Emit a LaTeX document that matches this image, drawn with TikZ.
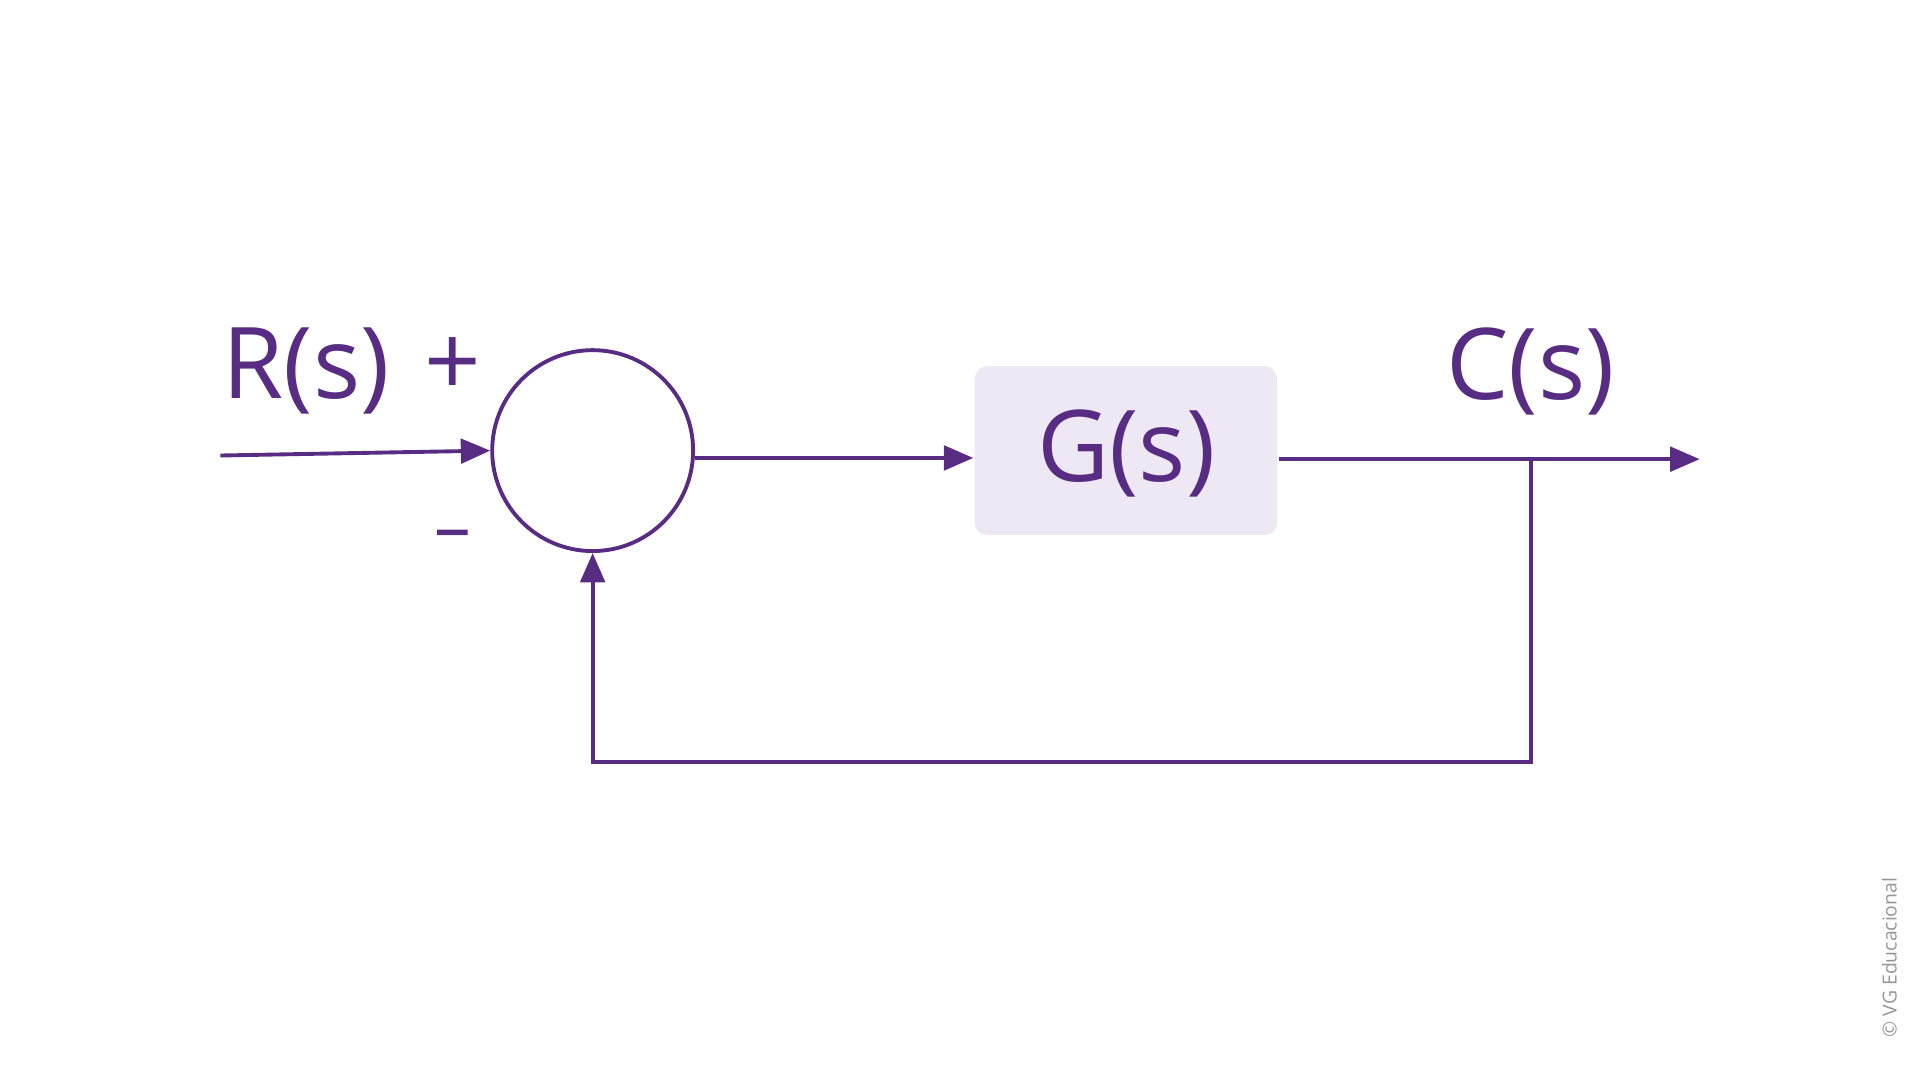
\documentclass[tikz,border=0pt]{standalone}
\usepackage{fontspec}
\setmainfont{Open Sans}
\usetikzlibrary{arrows.meta,positioning}
\definecolor{sig_purple}{RGB}{88,44,131}
\definecolor{box_lilac}{RGB}{237,232,243}
\definecolor{note_gray}{RGB}{150,150,150}

\begin{document}
\begin{tikzpicture}[x=0.01cm,y=-0.01cm,semithick,>={Triangle[length=2.4mm,width=2mm]}]
    \tikzstyle{sig}=[draw=sig_purple,line width=0.9pt]
    \tikzstyle{lbl}=[text=sig_purple,font=\fontsize{23}{28}\selectfont,inner sep=0pt]
    \tikzstyle{sum}=[sig,circle,minimum size=1.64cm,inner sep=0pt,fill=white]
    \tikzstyle{block}=[fill=box_lilac,rounded corners=3pt,minimum width=2.47cm,minimum height=1.38cm]

    \useasboundingbox (0,0) rectangle (1568,882);

    \node[sum]   (s) at (484,368) {};
    \node[block] (g) at (919.5,368) {};
    \node[lbl]   at (920,370) {G(s)};
    \coordinate (in)  at (180,372);
    \coordinate (out) at (1388,375);
    \coordinate (tap) at (1250,375);
    \coordinate (low) at (1250,622);

    \node[lbl] (r)  at (250,303) {R(s)};
    \node[lbl] (c)  at (1250,303) {C(s)};
    \node[lbl] (p)  at (370,300) {+};
    \node[lbl,font=\fontsize{17}{18}\selectfont] (m) at (370,442) {–};
    \node[text=note_gray,font=\fontsize{4.5}{5}\selectfont,rotate=90,inner sep=0pt] (cr) at (1543,782) {© VG Educacional};

    \draw[sig,->] (in) -- (s.west);
    \draw[sig,->] (s.east |- 0,374) -- (g.west |- 0,374);
    \draw[sig,->] (g.east |- tap) -- (out);
    \draw[sig,->] (tap) -- (low) -| (s.south);
\end{tikzpicture}
\end{document}
